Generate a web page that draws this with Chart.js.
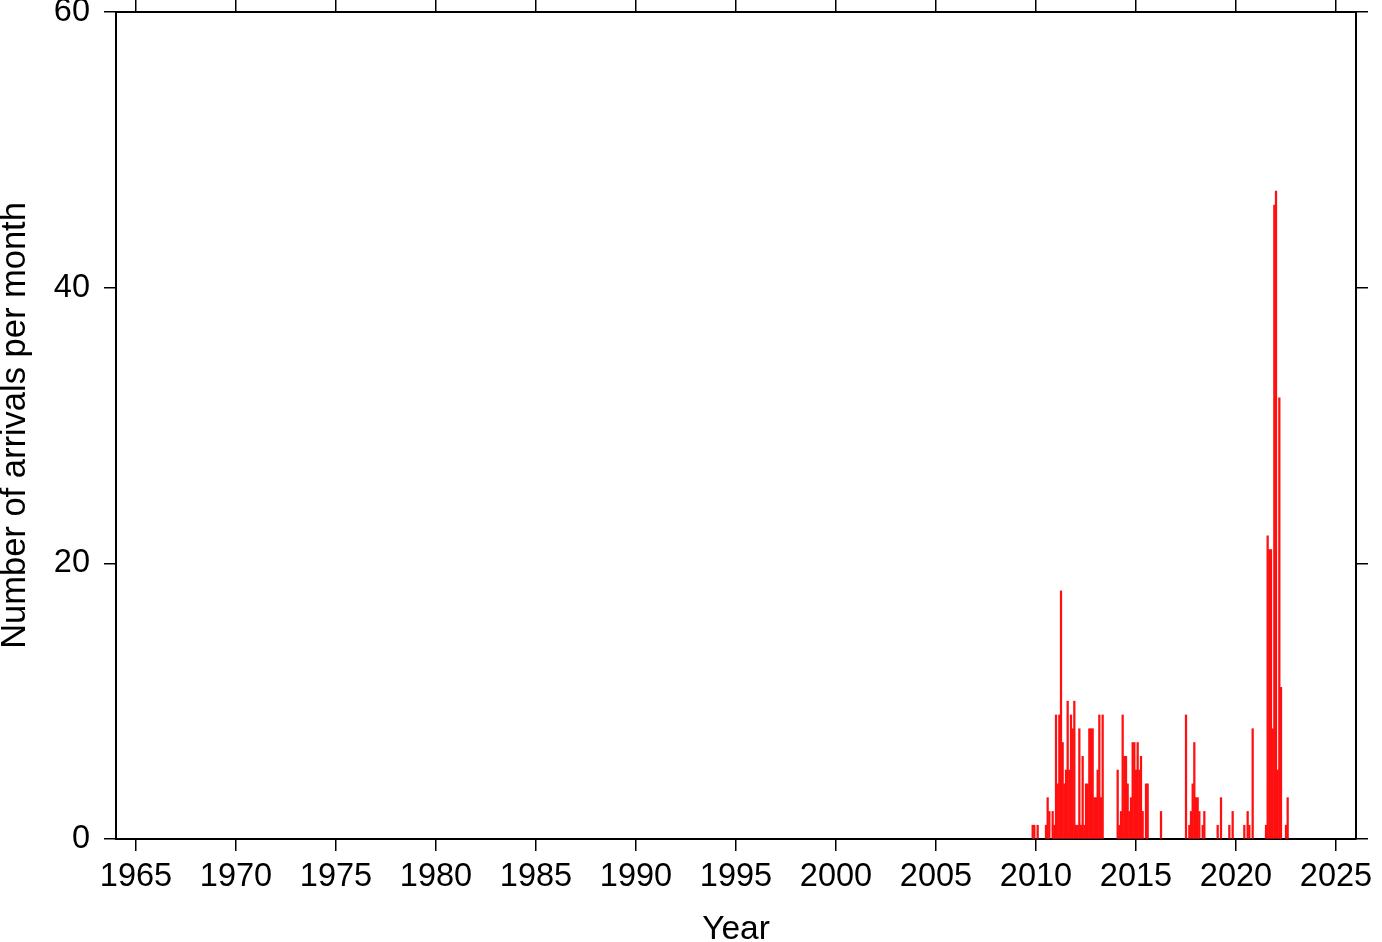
<!DOCTYPE html>
<html lang="en">
<head>
  <meta charset="UTF-8" />
  <title>Arrivals per month</title>
  <script src="https://cdn.jsdelivr.net/npm/chart.js"></script>
  <style>
    html, body { margin: 0; padding: 0; background: #fff; }
    canvas { display: block; }
  </style>
</head>
<body>
  <canvas id="arrivalsChart" width="1382" height="942"></canvas>

<script>
  // months with arrivals (empty months are zero and not drawn)
  const months = [
    '2009-11', '2009-12', '2010-02', '2010-07', '2010-08', '2010-09', '2010-11', '2010-12',
    '2011-01', '2011-02', '2011-03', '2011-04', '2011-05', '2011-06', '2011-07', '2011-08',
    '2011-09', '2011-10', '2011-11', '2011-12',
    '2012-01', '2012-02', '2012-03', '2012-04', '2012-05', '2012-06', '2012-07', '2012-08',
    '2012-09', '2012-10', '2012-11', '2012-12',
    '2013-01', '2013-02', '2013-03', '2013-04', '2013-05',
    '2014-02', '2014-03', '2014-04', '2014-05', '2014-06', '2014-07', '2014-08', '2014-09',
    '2014-10', '2014-11', '2014-12',
    '2015-01', '2015-02', '2015-03', '2015-04', '2015-05', '2015-07', '2015-08',
    '2016-04',
    '2017-07', '2017-09', '2017-10', '2017-11', '2017-12',
    '2018-01', '2018-02', '2018-03', '2018-05', '2018-06',
    '2019-02', '2019-04', '2019-09', '2019-11',
    '2020-06', '2020-08', '2020-09', '2020-11',
    '2021-07', '2021-08', '2021-09', '2021-10', '2021-11', '2021-12',
    '2022-01', '2022-02', '2022-03', '2022-04', '2022-07', '2022-08'
  ];
  const counts = [
    1, 1, 1, 1, 3, 2, 2, 1,
    9, 4, 9, 18, 7, 4, 5, 10,
    5, 9, 8, 10,
    1, 1, 8, 1, 6, 1, 4, 4,
    8, 8, 8, 3,
    3, 5, 9, 3, 9,
    5, 1, 2, 9, 6, 6, 4, 2,
    3, 7, 7,
    5, 7, 5, 6, 2, 4, 4,
    2,
    9, 1, 2, 4, 7,
    3, 3, 2, 1, 2,
    1, 3, 1, 2,
    1, 2, 1, 8,
    1, 22, 21, 21, 8, 46,
    47, 5, 32, 11, 1, 3
  ];
  const xTickYears = [1965, 1970, 1975, 1980, 1985, 1990, 1995, 2000, 2005, 2010, 2015, 2020, 2025];
  const yTickValues = [0, 20, 40, 60];

  const FONT = "'Liberation Sans', Arial, Helvetica, sans-serif";

  // decimal year of each month
  const points = months.map((m, i) => {
    const [y, mo] = m.split('-').map(Number);
    return { x: y + (mo - 1) / 12, y: counts[i] };
  });

  const tickGrid = {
    drawOnChartArea: false,
    drawTicks: true,
    tickLength: 12,
    color: '#000',
    lineWidth: 1.5,
    offset: false
  };
  const frame = { display: true, color: '#000', width: 2 };
  const setYearTicks = s => { s.ticks = xTickYears.map(v => ({ value: v })); };
  const setCountTicks = s => { s.ticks = yTickValues.map(v => ({ value: v })); };
  // fixed box sizes, no extra room for overhanging labels
  const fixBox = (w, h) => s => {
    if (w !== null) s.width = w;
    if (h !== null) s.height = h;
    s.paddingTop = 0; s.paddingBottom = 0;
    s.paddingLeft = 0; s.paddingRight = 0;
  };

  new Chart(document.getElementById('arrivalsChart'), {
    type: 'bar',
    data: {
      datasets: [{
        data: points,
        backgroundColor: '#ff1010',
        borderWidth: 0,
        barThickness: 1.6
      }]
    },
    options: {
      responsive: false,
      animation: false,
      layout: { padding: 0 },
      plugins: { legend: { display: false }, tooltip: { enabled: false } },
      scales: {
        x: {
          type: 'linear',
          position: 'bottom',
          min: 1964,
          max: 2026,
          offset: false,
          grid: tickGrid,
          border: frame,
          afterBuildTicks: setYearTicks,
          afterFit: fixBox(null, 103),
          ticks: {
            autoSkip: false,
            maxRotation: 0,
            padding: 7,
            color: '#000',
            font: { family: FONT, size: 32.5 },
            callback: v => String(v)
          },
          title: {
            display: true,
            text: 'Year',
            color: '#000',
            padding: 0,
            font: { family: FONT, size: 33.5, lineHeight: 0.72 }
          }
        },
        xTop: {
          type: 'linear',
          position: 'top',
          min: 1964,
          max: 2026,
          offset: false,
          grid: tickGrid,
          border: frame,
          afterBuildTicks: setYearTicks,
          afterFit: fixBox(null, 12),
          ticks: { display: false }
        },
        y: {
          position: 'left',
          min: 0,
          max: 60,
          grid: tickGrid,
          border: frame,
          afterBuildTicks: setCountTicks,
          afterFit: fixBox(116, null),
          ticks: {
            padding: 14,
            color: '#000',
            font: { family: FONT, size: 32.5 }
          },
          title: {
            display: true,
            text: 'Number of arrivals per month',
            color: '#000',
            padding: 0,
            font: { family: FONT, size: 34.5, lineHeight: 0.9 }
          }
        },
        yRight: {
          position: 'right',
          min: 0,
          max: 60,
          grid: tickGrid,
          border: frame,
          afterBuildTicks: setCountTicks,
          afterFit: fixBox(26, null),
          ticks: { display: false }
        }
      }
    }
  });
</script>
</body>
</html>
